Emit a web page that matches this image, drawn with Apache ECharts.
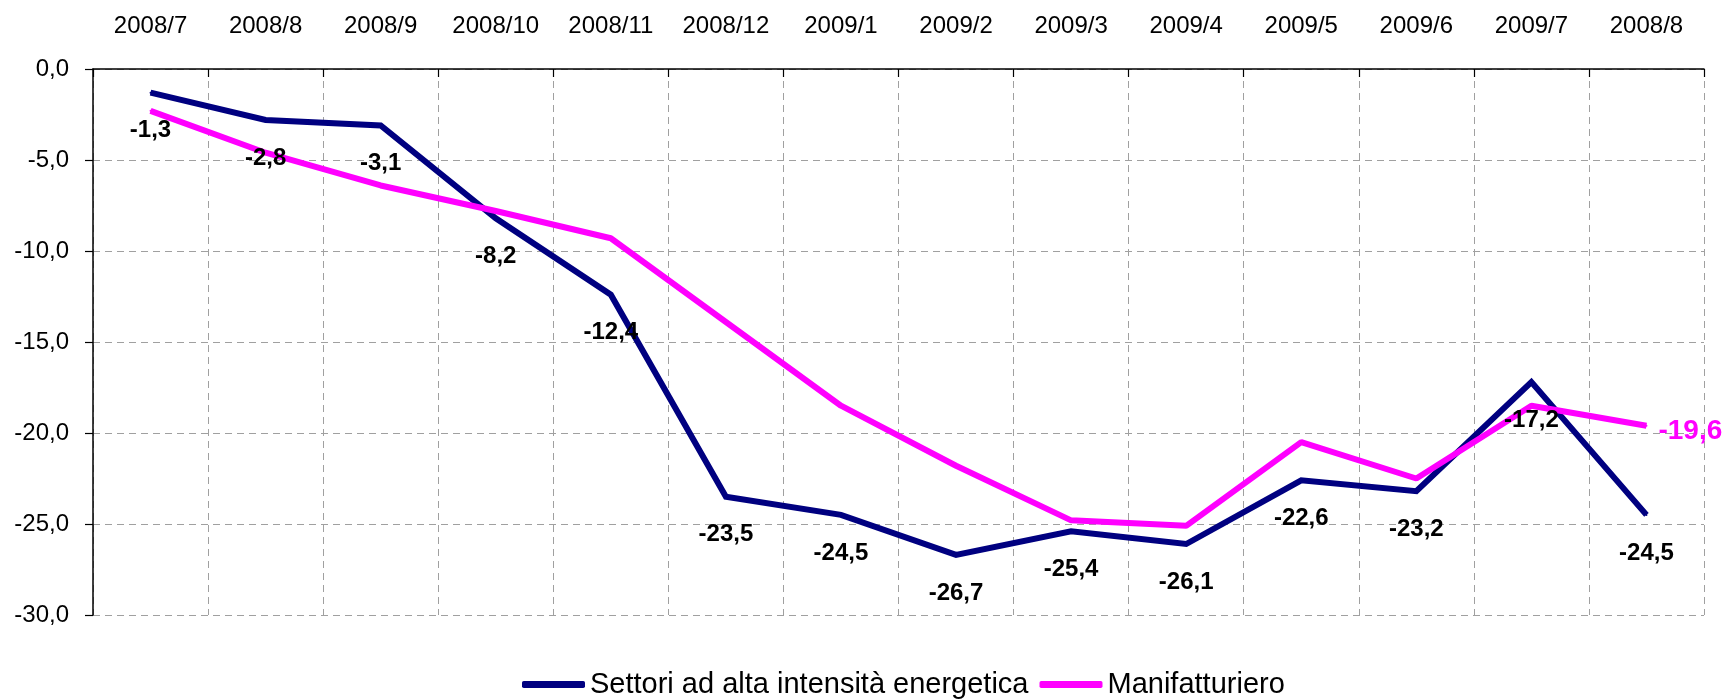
<!DOCTYPE html>
<html>
<head>
<meta charset="utf-8">
<script src="https://cdn.jsdelivr.net/npm/echarts@6/dist/echarts.min.js"></script>
<style>
  html, body { margin:0; padding:0; background:#fff; }
  #echarts { width:1726px; height:700px; }
</style>
</head>
<body>
<div id="echarts"></div>
<script type="text/javascript">
	// months on the top axis (the last one is labelled 2008/8 in the original)
	var categories = ['2008/7','2008/8','2008/9','2008/10','2008/11','2008/12','2009/1','2009/2','2009/3','2009/4','2009/5','2009/6','2009/7','2008/8'];
	var energeticaValues = [-1.3,-2.8,-3.1,-8.2,-12.4,-23.5,-24.5,-26.7,-25.4,-26.1,-22.6,-23.2,-17.2,-24.5];
	var manifValues = [-2.3,-4.6,-6.4,-7.8,-9.3,-13.9,-18.5,-21.8,-24.8,-25.1,-20.5,-22.5,-18.5,-19.6];
	var seriesNames = ['Settori ad alta intensità energetica','Manifatturiero'];
	var yTicks = {min:-30, max:0, interval:5};

	var FONT = '"Liberation Sans", Arial, sans-serif';
	function comma(v){ return Number(v).toFixed(1).replace('.', ','); }

	var thechart = echarts.init(document.getElementById('echarts'), null, {renderer:'canvas'});
	var last = manifValues.length - 1;
	var theoption = {
		animation : false,
		backgroundColor : '#ffffff',
		grid : { left:93, right:22, top:69, bottom:85, containLabel:false },
		legend : {
			left : 517,
			top : 665,
			icon : 'roundRect',
			itemWidth : 63,
			itemHeight : 7,
			itemGap : 11,
			textStyle : { fontFamily:FONT, fontSize:29, color:'#000' },
			data : seriesNames
		},
		xAxis : [{
			type : 'category',
			position : 'top',
			boundaryGap : true,
			data : categories,
			axisLine : { show:true, lineStyle:{ color:'#000', width:1.5 } },
			axisTick : { show:true, inside:true, length:8, interval:0, lineStyle:{ color:'#000', width:1.2 } },
			axisLabel : { interval:0, margin:31, fontFamily:FONT, fontSize:24, color:'#000' },
			splitLine : { show:true, interval:0, lineStyle:{ color:'#a0a0a0', width:1, type:[7,5] } }
		}],
		yAxis : [{
			type : 'value',
			min : yTicks.min,
			max : yTicks.max,
			interval : yTicks.interval,
			axisLine : { show:true, lineStyle:{ color:'#000', width:1.5 } },
			axisTick : { show:true, inside:false, length:8, lineStyle:{ color:'#000', width:1.2 } },
			axisLabel : { margin:24, fontFamily:FONT, fontSize:24, color:'#000', formatter:comma },
			splitLine : { show:true, lineStyle:{ color:'#a0a0a0', width:1, type:[7,5] } }
		}],
		series : [
			{
				name : seriesNames[0],
				type : 'line',
				color : '#000080',
				symbol : 'circle',
				symbolSize : 2,
				showSymbol : true,
				lineStyle : { width:6, color:'#000080', join:'miter' },
				label : {
					show : true,
					position : 'inside',
					offset : [0, 38],
					fontFamily : FONT,
					fontSize : 24,
					fontWeight : 'bold',
					color : '#000',
					formatter : function(p){ return comma(p.value); }
				},
				data : energeticaValues
			},
			{
				name : seriesNames[1],
				type : 'line',
				color : '#ff00ff',
				symbol : 'circle',
				symbolSize : 2,
				showSymbol : true,
				lineStyle : { width:6, color:'#ff00ff' },
				label : { show:false },
				data : manifValues.map(function(v, i){
					if (i !== last) return v;
					return {
						value : v,
						label : {
							show : true,
							position : 'right',
							distance : 11,
							offset : [0, 6],
							fontFamily : FONT,
							fontSize : 28,
							fontWeight : 'bold',
							color : '#ff00ff',
							formatter : function(p){ return comma(p.value); }
						}
					};
				})
			}
		]
	};
	thechart.setOption(theoption, true);
</script>
</body>
</html>
